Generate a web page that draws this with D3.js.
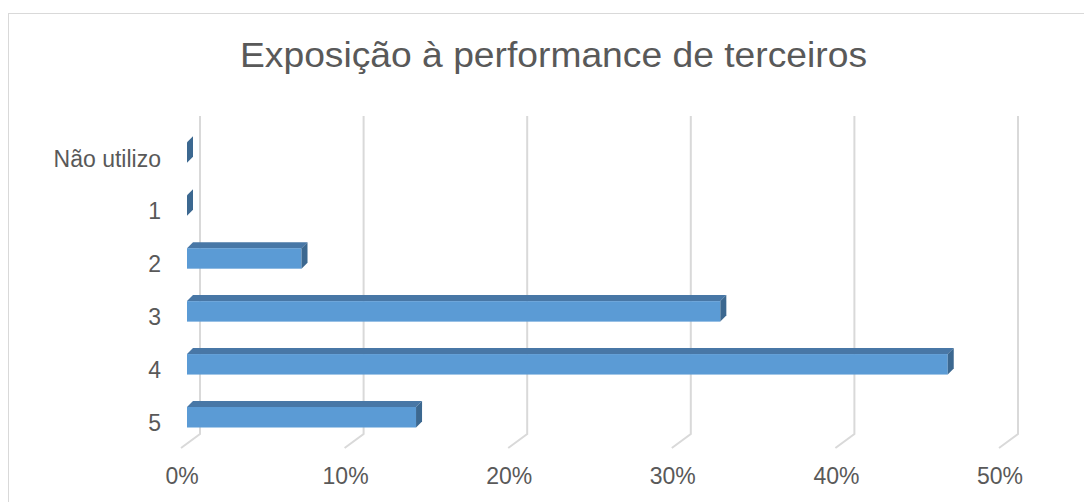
<!DOCTYPE html>
<html><head><meta charset="utf-8">
<script src="https://cdn.jsdelivr.net/npm/d3@7"></script>
<style>html,body{margin:0;padding:0;background:#fff;overflow:hidden}</style>
</head><body>
<svg id="c" width="1084" height="502"></svg>
<script>
const title = "Exposição à performance de terceiros";
const categories = ["Não utilizo", "1", "2", "3", "4", "5"];
const values = [0, 0, 0.07, 0.326, 0.465, 0.14];
const ticks = [0, 0.1, 0.2, 0.3, 0.4, 0.5];

const svg = d3.select("#c");
const font = "Liberation Sans, Arial, sans-serif";
const txt = "#595959";

// chart border
svg.append("rect").attr("x", 8.5).attr("y", 13.5).attr("width", 1100).attr("height", 520)
  .attr("fill", "none").attr("stroke", "#D9D9D9").attr("stroke-width", 1);

svg.append("text").attr("x", 553.5).attr("y", 67).attr("text-anchor", "middle")
  .attr("font-family", font).attr("font-size", 35).attr("fill", txt)
  .attr("textLength", 627).attr("lengthAdjust", "spacingAndGlyphs").text(title);

const dom = [0, 0.5];
const xBack = d3.scaleLinear().domain(dom).range([200, 1018]);   // back wall
const xFloor = d3.scaleLinear().domain(dom).range([181, 999]);   // floor front
const xBar = d3.scaleLinear().domain(dom).range([187, 1005]);    // bar front plane
const y = d3.scalePoint().domain(categories).range([142.3, 407]);
const barH = 20.5, dep = 6;
const wallTop = 116, wallBot = 434, floorFront = 448;

// gridlines
const g = svg.append("g");
ticks.forEach(t => {
  g.append("path")
    .attr("d", `M${xBack(t)},${wallTop} L${xBack(t)},${wallBot} L${xFloor(t)},${floorFront}`)
    .attr("fill", "none").attr("stroke", "#D9D9D9").attr("stroke-width", 2);
});

// tick labels
svg.append("g").selectAll("text").data(ticks).join("text")
  .attr("x", d => xFloor(d) + 1).attr("y", 476).attr("dominant-baseline", "central")
  .attr("text-anchor", "middle").attr("font-family", font).attr("font-size", 23)
  .attr("fill", txt).text(d => d3.format(".0%")(d));

// category labels
svg.append("g").selectAll("text").data(categories).join("text")
  .attr("x", 161).attr("y", d => y(d) + barH / 2 + 6).attr("dominant-baseline", "central")
  .attr("text-anchor", "end").attr("font-family", font).attr("font-size", 23)
  .attr("fill", txt).text(d => d);

// bars
const bars = svg.append("g");
categories.forEach((c, i) => {
  const v = values[i];
  const x0 = xBar(0), x1 = xBar(v), y0 = y(c), y1 = y0 + barH;
  if (v > 0) {
    bars.append("path").attr("d", `M${x0},${y0} L${x0 + dep},${y0 - dep} L${x1 + dep},${y0 - dep} L${x1},${y0} Z`)
      .attr("fill", "#4877A6");
    bars.append("rect").attr("x", x0).attr("y", y0).attr("width", x1 - x0).attr("height", barH)
      .attr("fill", "#5B9BD5");
  }
  bars.append("path").attr("d", `M${x1},${y0} L${x1 + dep},${y0 - dep} L${x1 + dep},${y1 - dep} L${x1},${y1} Z`)
    .attr("fill", "#3C6890");
});
</script>
</body></html>
